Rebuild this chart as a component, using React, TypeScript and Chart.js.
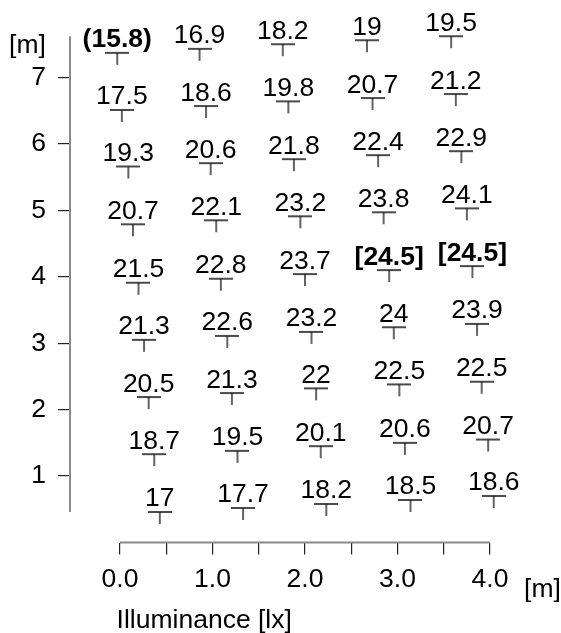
import { useEffect, useRef } from 'react';
import { Chart, registerables } from 'chart.js';

Chart.register(...registerables);

// Measured illuminance values, one array per row of the measuring grid (top row first)
const illuminance: number[][] = [
  [15.8, 16.9, 18.2, 19, 19.5],
  [17.5, 18.6, 19.8, 20.7, 21.2],
  [19.3, 20.6, 21.8, 22.4, 22.9],
  [20.7, 22.1, 23.2, 23.8, 24.1],
  [21.5, 22.8, 23.7, 24.5, 24.5],
  [21.3, 22.6, 23.2, 24, 23.9],
  [20.5, 21.3, 22, 22.5, 22.5],
  [18.7, 19.5, 20.1, 20.6, 20.7],
  [17, 17.7, 18.2, 18.5, 18.6],
];

// Horizontal position [m] of each measuring point
const pointX: number[][] = [
  [-0.03, 0.86, 1.76, 2.67, 3.58],
  [0.02, 0.93, 1.82, 2.73, 3.63],
  [0.09, 0.98, 1.88, 2.79, 3.69],
  [0.14, 1.04, 1.95, 2.85, 3.75],
  [0.2, 1.09, 2.0, 2.91, 3.81],
  [0.26, 1.16, 2.07, 2.96, 3.86],
  [0.31, 1.21, 2.12, 3.02, 3.91],
  [0.37, 1.27, 2.17, 3.08, 3.98],
  [0.43, 1.33, 2.23, 3.14, 4.04],
];

// Vertical position [m] of each measuring point
const pointY: number[][] = [
  [7.37, 7.43, 7.5, 7.56, 7.62],
  [6.51, 6.57, 6.64, 6.69, 6.75],
  [5.66, 5.71, 5.77, 5.83, 5.89],
  [4.79, 4.85, 4.91, 4.97, 5.03],
  [3.91, 3.97, 4.04, 4.1, 4.16],
  [3.05, 3.11, 3.17, 3.24, 3.29],
  [2.19, 2.25, 2.32, 2.38, 2.42],
  [1.33, 1.38, 1.45, 1.5, 1.55],
  [0.46, 0.52, 0.58, 0.64, 0.7],
];

const xTickValues = [0, 0.5, 1, 1.5, 2, 2.5, 3, 3.5, 4];
const xTickLabels = ['0.0', '', '1.0', '', '2.0', '', '3.0', '', '4.0'];
const yTickValues = [1, 2, 3, 4, 5, 6, 7];
const yTickLabels = ['1', '2', '3', '4', '5', '6', '7'];
const unitLabel = '[m]';
const xTitle = 'Illuminance [lx]';

const FONT = '"Liberation Sans", Arial, Helvetica, sans-serif';
const FS = 26.5;
const CW = 561;
const CH = 633;

function makeMarker(): HTMLCanvasElement {
  const c = document.createElement('canvas');
  c.width = 24;
  c.height = 26;
  const g = c.getContext('2d')!;
  g.strokeStyle = '#111';
  g.lineWidth = 1.3;
  g.beginPath();
  g.moveTo(0, 13);
  g.lineTo(24, 13);
  g.moveTo(12, 13);
  g.lineTo(12, 25);
  g.stroke();
  return c;
}

export default function App() {
  const ref = useRef<HTMLCanvasElement | null>(null);

  useEffect(() => {
    const canvas = ref.current;
    if (!canvas) return;
    const all = illuminance.flat();
    const minV = Math.min(...all);
    const maxV = Math.max(...all);
    const allY = pointY.flat();
    const yLo = Math.min(...allY);
    const yHi = Math.max(...allY);
    const marker = makeMarker();

    const overlay = {
      id: 'overlay',
      afterDatasetsDraw(chart: any) {
        const ctx = chart.ctx as CanvasRenderingContext2D;
        const xs = chart.scales.x;
        const ys = chart.scales.y;
        const area = chart.chartArea;
        ctx.save();
        // axis lines
        ctx.strokeStyle = '#8a8a8a';
        ctx.lineWidth = 2;
        ctx.beginPath();
        ctx.moveTo(area.left, ys.getPixelForValue(yLo));
        ctx.lineTo(area.left, ys.getPixelForValue(yHi));
        ctx.moveTo(xs.getPixelForValue(xTickValues[0]), area.bottom);
        ctx.lineTo(xs.getPixelForValue(xTickValues[xTickValues.length - 1]), area.bottom);
        ctx.stroke();

        // value labels
        ctx.fillStyle = '#000';
        ctx.textAlign = 'center';
        ctx.textBaseline = 'alphabetic';
        chart.data.datasets.forEach((_ds: any, di: number) => {
          const meta = chart.getDatasetMeta(di);
          meta.data.forEach((pt: any, i: number) => {
            const v = illuminance[di][i];
            const isMin = v === minV;
            const isMax = v === maxV;
            const txt = isMin ? `(${v})` : isMax ? `[${v}]` : String(v);
            ctx.font = `${isMin || isMax ? 'bold ' : ''}${FS}px ${FONT}`;
            ctx.fillText(txt, pt.x, pt.y - 5.5);
          });
        });

        // axis titles
        ctx.font = `${FS}px ${FONT}`;
        ctx.textAlign = 'center';
        ctx.fillText(unitLabel, area.left - 42.5, 53);
        ctx.fillText(unitLabel, area.right - 3, 597);
        ctx.textAlign = 'left';
        ctx.fillText(xTitle, xs.getPixelForValue(0) - 3.4, 628);
        ctx.restore();
      },
    };

    const chart = new Chart(canvas, {
      type: 'scatter',
      data: {
        datasets: illuminance.map((row, r) => ({
          label: `row ${r + 1}`,
          data: row.map((_v, c) => ({ x: pointX[r][c], y: pointY[r][c] })),
          pointStyle: marker,
          pointRadius: 10,
          showLine: false,
        })),
      },
      options: {
        responsive: false,
        animation: false,
        events: [],
        layout: { padding: { top: 8.9, right: 15.5, bottom: 0, left: 0 } },
        plugins: { legend: { display: false }, tooltip: { enabled: false } },
        scales: {
          x: {
            type: 'linear',
            min: -0.5405,
            max: 4.6,
            afterBuildTicks: (s: any) => {
              s.ticks = xTickValues.map((v) => ({ value: v }));
            },
            afterFit: (s: any) => {
              s.height = 90.5;
              s.paddingLeft = 0;
              s.paddingRight = 0;
              s.paddingTop = 0;
              s.paddingBottom = 0;
            },
            ticks: {
              autoSkip: false,
              maxRotation: 0,
              padding: 9,
              color: '#000',
              font: { family: FONT, size: FS },
              callback: (_v: any, i: number) => xTickLabels[i],
            },
            grid: { drawOnChartArea: false, drawTicks: true, tickLength: 12, color: '#222', lineWidth: 1.2 },
            border: { display: false },
          },
          y: {
            type: 'linear',
            min: 0,
            max: 8,
            afterBuildTicks: (s: any) => {
              s.ticks = yTickValues.map((v) => ({ value: v }));
            },
            afterFit: (s: any) => {
              s.width = 70;
              s.paddingLeft = 0;
              s.paddingRight = 0;
              s.paddingTop = 0;
              s.paddingBottom = 0;
            },
            ticks: {
              autoSkip: false,
              padding: 12,
              color: '#000',
              font: { family: FONT, size: FS },
              callback: (_v: any, i: number) => yTickLabels[i],
            },
            grid: { drawOnChartArea: false, drawTicks: true, tickLength: 12, color: '#222', lineWidth: 1.2 },
            border: { display: false },
          },
        },
      } as any,
      plugins: [overlay],
    });
    return () => chart.destroy();
  }, []);

  return (
    <div style={{ position: 'absolute', left: 0, top: 0, width: CW, height: CH, overflow: 'hidden', background: '#fff' }}>
      <canvas ref={ref} width={CW} height={CH} style={{ width: CW, height: CH, display: 'block' }} />
    </div>
  );
}
